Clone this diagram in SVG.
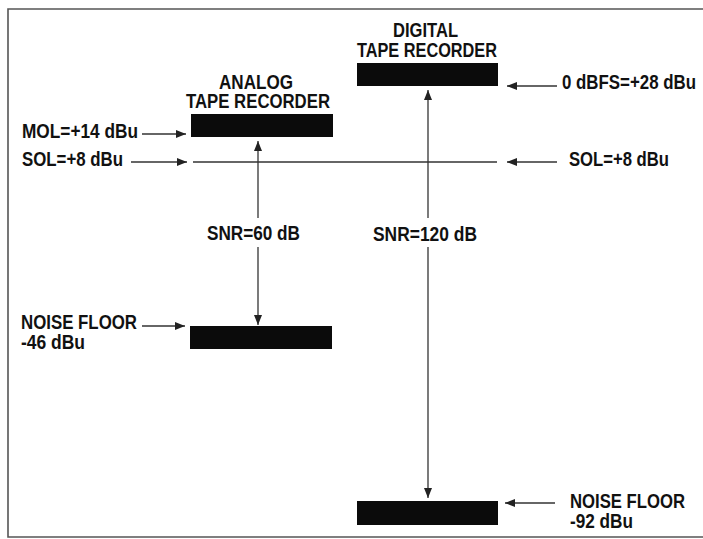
<svg xmlns="http://www.w3.org/2000/svg" width="703" height="539" viewBox="0 0 703 539">
<defs>
<marker id="ah" viewBox="0 0 10 8" markerWidth="10" markerHeight="8" refX="10" refY="4" orient="auto" markerUnits="userSpaceOnUse">
<path d="M0,0 L10,4 L0,8 Z" fill="#222"/>
</marker>
<style>
.t{font-family:"Liberation Sans Narrow","Liberation Sans",Arial,sans-serif;font-weight:bold;font-size:20px;fill:#111}
.c{stroke:#333;stroke-width:1.3;fill:none}
.a{marker-end:url(#ah)}
.box{fill:#0b0b0b}
.frame{stroke:#555;stroke-width:1.6;fill:none}
</style>
</defs>
<rect width="703" height="539" fill="#fff"/>
<path class="frame" d="M703,9 L8,9 L8,537 L703,537"/>

<g id="analog-title">
<text class="t" x="219" y="89" textLength="74" lengthAdjust="spacingAndGlyphs">ANALOG</text>
<text class="t" x="186" y="108" textLength="144" lengthAdjust="spacingAndGlyphs">TAPE RECORDER</text>
</g>
<g id="analog-mol-box"><rect class="box" x="191" y="114" width="142" height="23"/></g>
<g id="analog-noise-box"><rect class="box" x="190" y="326" width="142" height="23"/></g>

<g id="digital-title">
<text class="t" x="393" y="37" textLength="65" lengthAdjust="spacingAndGlyphs">DIGITAL</text>
<text class="t" x="357" y="57" textLength="140" lengthAdjust="spacingAndGlyphs">TAPE RECORDER</text>
</g>
<g id="digital-fs-box"><rect class="box" x="357" y="63" width="141" height="23"/></g>
<g id="digital-noise-box"><rect class="box" x="357" y="501" width="141" height="24"/></g>

<g id="label-mol"><text class="t" x="22" y="138" textLength="116" lengthAdjust="spacingAndGlyphs">MOL=+14 dBu</text></g>
<g id="label-sol-left"><text class="t" x="22" y="166" textLength="101" lengthAdjust="spacingAndGlyphs">SOL=+8 dBu</text></g>
<g id="label-noise-left">
<text class="t" x="21" y="329" textLength="116" lengthAdjust="spacingAndGlyphs">NOISE FLOOR</text>
<text class="t" x="21" y="349" textLength="64" lengthAdjust="spacingAndGlyphs">-46 dBu</text>
</g>
<g id="label-dbfs"><text class="t" x="562" y="89" textLength="134" lengthAdjust="spacingAndGlyphs">0 dBFS=+28 dBu</text></g>
<g id="label-sol-right"><text class="t" x="569" y="166" textLength="100" lengthAdjust="spacingAndGlyphs">SOL=+8 dBu</text></g>
<g id="label-noise-right">
<text class="t" x="570" y="508" textLength="115" lengthAdjust="spacingAndGlyphs">NOISE FLOOR</text>
<text class="t" x="570" y="528" textLength="63" lengthAdjust="spacingAndGlyphs">-92 dBu</text>
</g>
<g id="label-snr60"><text class="t" x="207" y="240" textLength="93" lengthAdjust="spacingAndGlyphs">SNR=60 dB</text></g>
<g id="label-snr120"><text class="t" x="373" y="241" textLength="104" lengthAdjust="spacingAndGlyphs">SNR=120 dB</text></g>

<g id="connectors">
<line class="c a" x1="142" y1="134" x2="186" y2="134"/>
<line class="c a" x1="131" y1="162" x2="187" y2="162"/>
<line class="c" x1="193" y1="162" x2="497" y2="162"/>
<line class="c a" x1="557" y1="162" x2="507" y2="162"/>
<line class="c a" x1="557" y1="86" x2="507" y2="86"/>
<line class="c a" x1="142" y1="326" x2="185" y2="326"/>
<line class="c a" x1="555" y1="503" x2="505" y2="503"/>
<line class="c a" x1="258" y1="218" x2="258" y2="141"/>
<line class="c a" x1="258" y1="247" x2="258" y2="325"/>
<line class="c a" x1="428" y1="218" x2="428" y2="90"/>
<line class="c a" x1="428" y1="247" x2="428" y2="498"/>
</g>
</svg>
